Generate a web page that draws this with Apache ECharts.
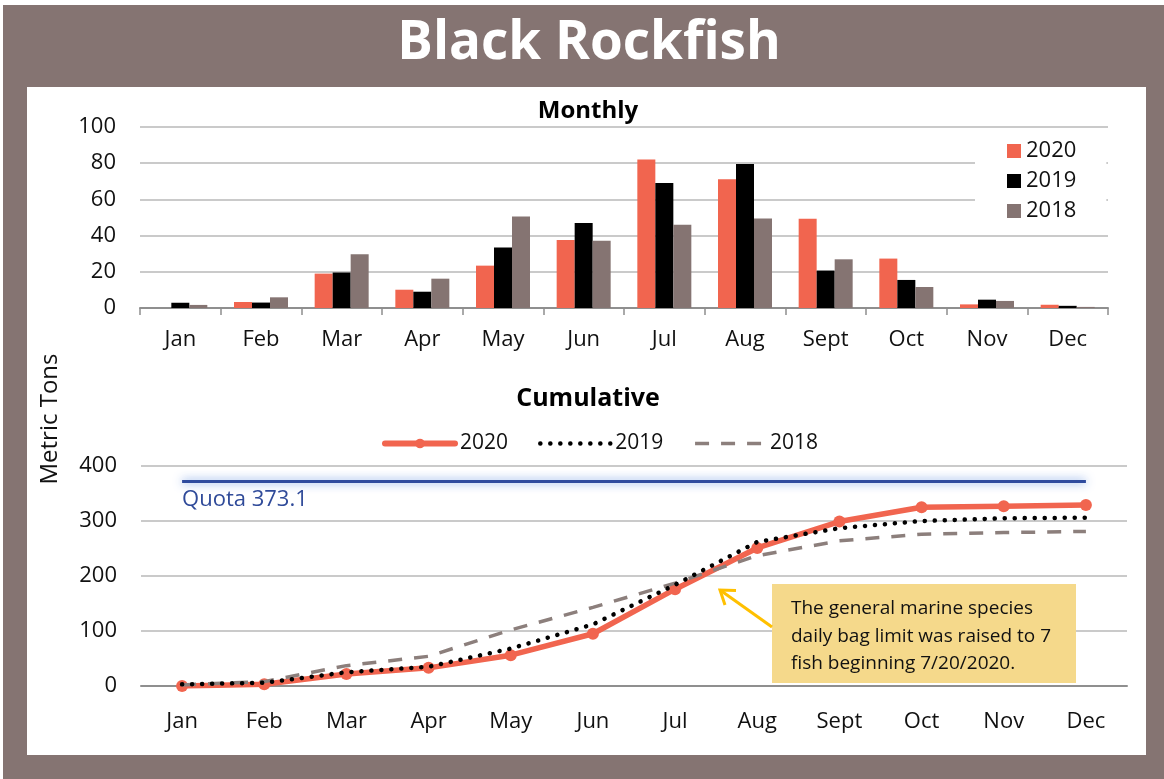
<!DOCTYPE html>
<html>
<head>
<meta charset="utf-8">
<script src="https://cdn.jsdelivr.net/npm/echarts@6/dist/echarts.min.js"></script>
<style>
html,body{margin:0;padding:0;background:#ffffff;}
#chart{width:1164px;height:779px;}
</style>
</head>
<body>
<div id="chart"></div>
<script>
// ---- data ----
var months = ['Jan','Feb','Mar','Apr','May','Jun','Jul','Aug','Sept','Oct','Nov','Dec'];
var monthly2020 = [0, 3.3, 19.0, 10.1, 23.4, 37.6, 82.0, 71.2, 49.3, 27.3, 2.0, 1.8];
var monthly2019 = [2.9, 3.0, 19.6, 9.0, 33.4, 47.0, 69.0, 79.5, 20.7, 15.5, 4.6, 1.2];
var monthly2018 = [1.7, 5.9, 29.7, 16.2, 50.6, 37.1, 46.0, 49.4, 26.9, 11.6, 3.9, 0.6];
var cum2020 = [0, 3, 22, 33, 56, 95, 176, 251, 299, 325, 327, 329];
var cum2019 = [3, 6, 25, 35, 68, 112, 184, 262, 287, 300, 305, 306];
var cum2018 = [2, 8, 37, 54, 102, 143, 187, 237, 264, 276, 279, 281];
var quota = 373.1;
var monthlyTicks = [0, 20, 40, 60, 80, 100];
var cumulativeTicks = [0, 100, 200, 300, 400];
var seriesNames = ['2020', '2019', '2018'];
var noteLines = ['The general marine species', 'daily bag limit was raised to 7', 'fish beginning 7/20/2020.'];

var FONT = 'Open Sans';
var C2020 = '#F1654F', C2019 = '#000000', C2018 = '#857472';
var GRID = '#b8b8b8', AXIS = '#8f8f8f', TXT = '#111111';

var chart = echarts.init(document.getElementById('chart'));

function yAxisCfg(gi, ticks) {
  return {
    type: 'value', gridIndex: gi,
    min: ticks[0], max: ticks[ticks.length - 1], interval: ticks[1] - ticks[0],
    axisLine: {show: false}, axisTick: {show: false},
    axisLabel: {color: TXT, fontFamily: FONT, fontSize: 22, margin: 24},
    splitLine: {lineStyle: {color: GRID, width: 1.5}}
  };
}

var option = {
  backgroundColor: '#ffffff',
  animation: false,
  graphic: [
    {type: 'rect', z: -10, shape: {x: 3, y: 5, width: 1161, height: 774}, style: {fill: '#857472'}},
    {type: 'rect', z: -9, shape: {x: 27, y: 87, width: 1119, height: 668}, style: {fill: '#ffffff'}},
    {type: 'text', x: 589, y: 44, style: {text: 'Black Rockfish', fill: '#ffffff', font: 'bold 53px "' + FONT + '"', textAlign: 'center', textVerticalAlign: 'middle'}},
    {type: 'text', x: 588, y: 111, style: {text: 'Monthly', fill: '#000', font: 'bold 24px "' + FONT + '"', textAlign: 'center', textVerticalAlign: 'middle'}},
    {type: 'text', x: 588, y: 399, style: {text: 'Cumulative', fill: '#000', font: 'bold 25px "' + FONT + '"', textAlign: 'center', textVerticalAlign: 'middle'}},
    {type: 'text', x: 50, y: 419, rotation: Math.PI / 2, style: {text: 'Metric Tons', fill: TXT, font: '24px "' + FONT + '"', textAlign: 'center', textVerticalAlign: 'middle'}},
    {type: 'rect', z: 20, shape: {x: 772, y: 584, width: 304, height: 99}, style: {fill: '#F5D98B'}},
    {type: 'text', z: 21, x: 791, y: 595, style: {text: noteLines.join('\n'), fill: '#111', font: '19px "' + FONT + '"', lineHeight: 27.5, textAlign: 'left', textVerticalAlign: 'top'}},
    {type: 'polyline', z: 21, shape: {points: [[772, 627], [720, 590]]}, style: {stroke: '#FFC000', lineWidth: 3, fill: null}},
    {type: 'polyline', z: 21, shape: {points: [[736, 590.5], [720, 590], [725, 605]]}, style: {stroke: '#FFC000', lineWidth: 3, fill: null, lineJoin: 'miter'}}
  ],
  legend: [
    {
      data: seriesNames, orient: 'vertical', left: 975, top: 131,
      padding: [9, 30, 9, 32], backgroundColor: '#ffffff',
      itemWidth: 14, itemHeight: 14, itemGap: 8, icon: 'rect',
      textStyle: {color: TXT, fontFamily: FONT, fontSize: 22, lineHeight: 22}
    },
    {
      data: [
        {name: 'c2020', lineStyle: {color: C2020, width: 6, type: 'solid', cap: 'round'}, itemStyle: {color: C2020}},
        {name: 'c2019', lineStyle: {color: C2019, width: 4.5, type: [0.1, 9.9], cap: 'round'}, itemStyle: {opacity: 0}},
        {name: 'c2018', lineStyle: {color: '#8c7f7c', width: 3.5, type: [14, 12], cap: 'butt'}, itemStyle: {opacity: 0}}
      ],
      orient: 'horizontal', left: 377, top: 428,
      itemWidth: 70, itemHeight: 12, itemGap: 30,
      formatter: function (n) { return n.slice(1); },
      textStyle: {color: TXT, fontFamily: FONT, fontSize: 21, padding: [0, 0, 0, 0]}
    }
  ],
  grid: [
    {left: 140, right: 56, top: 127, height: 181},
    {left: 141, right: 37, top: 466, height: 220}
  ],
  xAxis: [
    {
      type: 'category', gridIndex: 0, data: months, boundaryGap: true,
      axisLine: {lineStyle: {color: AXIS, width: 2}},
      axisTick: {show: true, length: 7, lineStyle: {color: AXIS, width: 1.5}},
      axisLabel: {color: TXT, fontFamily: FONT, fontSize: 22, margin: 21}
    },
    {
      type: 'category', gridIndex: 1, data: months, boundaryGap: true,
      axisLine: {lineStyle: {color: AXIS, width: 2}},
      axisTick: {show: false},
      axisLabel: {color: TXT, fontFamily: FONT, fontSize: 22, margin: 25}
    }
  ],
  yAxis: [yAxisCfg(0, monthlyTicks), yAxisCfg(1, cumulativeTicks)],
  series: [
    {name: '2020', type: 'bar', xAxisIndex: 0, yAxisIndex: 0, data: monthly2020, barWidth: 18, barGap: '0%', itemStyle: {color: C2020}},
    {name: '2019', type: 'bar', xAxisIndex: 0, yAxisIndex: 0, data: monthly2019, barWidth: 18, barGap: '0%', itemStyle: {color: C2019}},
    {name: '2018', type: 'bar', xAxisIndex: 0, yAxisIndex: 0, data: monthly2018, barWidth: 18, barGap: '0%', itemStyle: {color: C2018}},
    {
      name: 'c2018', type: 'line', xAxisIndex: 1, yAxisIndex: 1, data: cum2018,
      symbol: 'none', z: 3,
      lineStyle: {color: '#8c7f7c', width: 3.5, type: [14, 12], cap: 'butt'},
      itemStyle: {color: '#8c7f7c'}
    },
    {
      name: 'c2019', type: 'line', xAxisIndex: 1, yAxisIndex: 1, data: cum2019,
      symbol: 'none', z: 4,
      lineStyle: {color: C2019, width: 4.5, type: [0.1, 9.9], cap: 'round'},
      itemStyle: {color: C2019}
    },
    {
      name: 'c2020', type: 'line', xAxisIndex: 1, yAxisIndex: 1, data: cum2020,
      symbol: 'circle', symbolSize: 12, z: 2,
      lineStyle: {color: C2020, width: 5.5},
      itemStyle: {color: C2020},
      markLine: {
        silent: true, symbol: 'none',
        lineStyle: {color: '#2F4B9E', width: 3, type: 'solid', shadowColor: 'rgba(80,130,220,0.9)', shadowBlur: 10},
        label: {show: true, position: 'insideStartBottom', formatter: 'Quota ' + quota, color: '#2F4A99', fontFamily: FONT, fontSize: 22, distance: [0, 8]},
        data: [[{coord: [months[0], quota]}, {coord: [months[months.length - 1], quota]}]]
      }
    }
  ]
};
chart.setOption(option);
</script>
</body>
</html>
